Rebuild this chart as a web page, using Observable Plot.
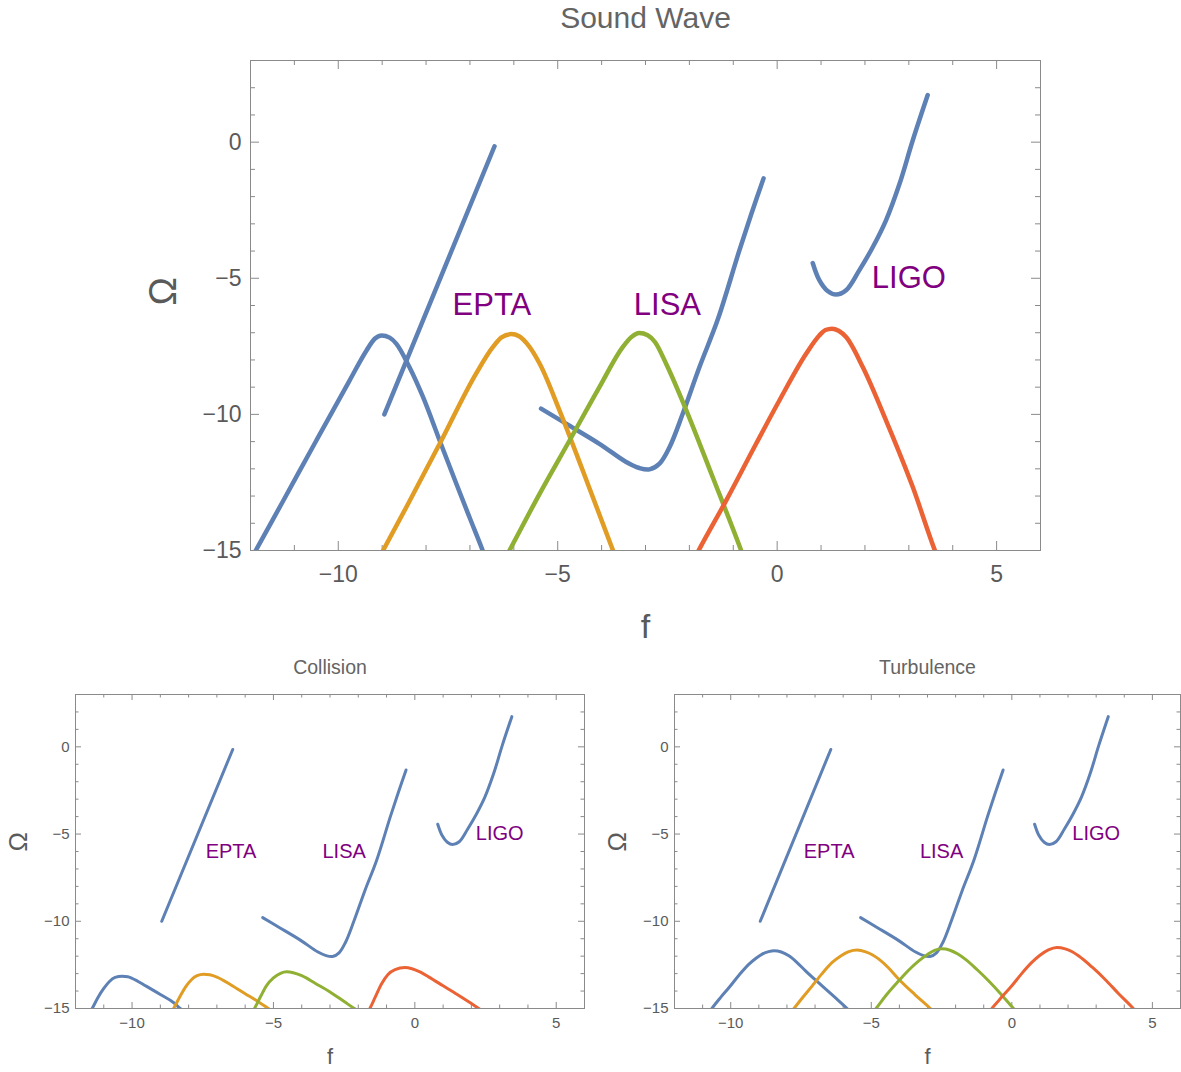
<!DOCTYPE html>
<html>
<head>
<meta charset="utf-8">
<script src="https://cdn.jsdelivr.net/npm/d3@7"></script>
<script src="https://cdn.jsdelivr.net/npm/@observablehq/plot@0.6"></script>
<style>
  body { margin: 0; background: #ffffff; }
  #wrap { position: relative; width: 1181px; height: 1072px; overflow: hidden; background: #fff; }
  #wrap > div { position: absolute; }
</style>
</head>
<body>
<div id="wrap">
  <div id="top" style="left:0px; top:0px;"></div>
  <div id="bl" style="left:0px; top:640px;"></div>
  <div id="br" style="left:590px; top:640px;"></div>
</div>
<script>
// ---------------- axes / ticks ----------------
const xDomain = [-12, 6];
const yDomain = [-15, 3];
const xTickValues = [-10, -5, 0, 5];
const xTickLabels = ["\u221210", "\u22125", "0", "5"];
const yTickValues = [0, -5, -10, -15];
const yTickLabels = ["0", "\u22125", "\u221210", "\u221215"];
const xMinorTicks = [-11, -9, -8, -7, -6, -4, -3, -2, -1, 1, 2, 3, 4];
const yMinorTicks = [-14, -13, -12, -11, -9, -8, -7, -6, -4, -3, -2, -1, 1, 2];

// ---------------- detector sensitivity curves (same in all panels) ----------------
const eptaF = [-8.95, -6.44];
const eptaOm = [-10.0, -0.15];
const lisaF = [-5.38, -4.81, -4.05, -3.44, -3.14, -2.91, -2.68, -2.45, -2.15, -1.77, -1.35, -0.86, -0.56, -0.31];
const lisaOm = [-9.79, -10.34, -11.08, -11.75, -11.97, -12.02, -11.81, -11.2, -9.97, -8.26, -6.5, -3.97, -2.5, -1.33];
const ligoF = [0.81, 0.96, 1.15, 1.34, 1.57, 1.87, 2.18, 2.48, 2.79, 3.09, 3.43];
const ligoOm = [-4.44, -5.07, -5.47, -5.6, -5.44, -4.71, -3.85, -2.87, -1.52, 0.07, 1.73];

const detNames = ["EPTA", "LISA", "LIGO"];
const detLabelF = [-6.5, -2.5, 3.0];
const detLabelOm = [-6.0, -6.0, -5.0];

const seriesColors = ["#5E81B5", "#E19C24", "#8FB032", "#EB6235"];

// ---------------- Sound Wave ----------------
const swBlueF = [-12.15, -11.88, -11.26, -10.5, -9.74, -9.36, -9.17, -9.01, -8.83, -8.68, -8.38, -8.07, -7.69, -7.31, -7.01, -6.71, -6.55];
const swBlueOm = [-15.8, -15.0, -13.19, -10.96, -8.75, -7.66, -7.22, -7.10, -7.18, -7.40, -8.26, -9.36, -10.96, -12.55, -13.78, -15.0, -15.7];
const swOrangeF = [-9.25, -8.98, -8.45, -7.69, -6.86, -6.48, -6.28, -6.06, -5.88, -5.7, -5.41, -4.96, -4.43, -3.74, -3.58];
const swOrangeOm = [-15.8, -15.0, -13.41, -11.08, -8.5, -7.53, -7.17, -7.05, -7.13, -7.4, -8.14, -9.85, -12.06, -15.0, -15.7];
const swGreenF = [-6.35, -6.10, -5.41, -4.73, -4.05, -3.52, -3.33, -3.14, -2.95, -2.78, -2.53, -2.07, -1.47, -0.82, -0.66];
const swGreenOm = [-15.75, -15.0, -12.91, -10.96, -9.0, -7.53, -7.17, -7.01, -7.09, -7.35, -8.14, -9.85, -12.3, -15.0, -15.7];
const swRedF = [-2.0, -1.77, -1.16, -0.48, 0.05, 0.66, 0.96, 1.1, 1.25, 1.4, 1.57, 1.95, 2.48, 3.09, 3.58, 3.75];
const swRedOm = [-15.65, -14.94, -13.16, -11.08, -9.49, -7.77, -7.10, -6.9, -6.85, -6.93, -7.16, -8.26, -10.22, -12.67, -14.94, -15.65];

// ---------------- Collision ----------------
const colBlueF = [-11.55, -11.41, -11.2, -11.0, -10.8, -10.6, -10.35, -10.15, -10.0, -9.5, -9.0, -8.5, -8.3, -8.1];
const colBlueOm = [-15.4, -15.0, -14.35, -13.85, -13.45, -13.22, -13.15, -13.18, -13.27, -13.72, -14.2, -14.7, -15.0, -15.2];
const colOrangeF = [-8.65, -8.53, -8.3, -8.1, -7.9, -7.7, -7.47, -7.25, -7.0, -6.5, -6.0, -5.5, -5.18, -5.0];
const colOrangeOm = [-15.35, -15.0, -14.3, -13.75, -13.35, -13.12, -13.03, -13.07, -13.2, -13.65, -14.15, -14.65, -15.0, -15.2];
const colGreenF = [-5.8, -5.67, -5.45, -5.25, -5.0, -4.75, -4.53, -4.3, -4.0, -3.5, -3.0, -2.5, -2.14, -1.95];
const colGreenOm = [-15.35, -15.0, -14.3, -13.7, -13.25, -12.98, -12.9, -12.95, -13.12, -13.58, -14.05, -14.6, -15.0, -15.2];
const colRedF = [-1.72, -1.59, -1.4, -1.18, -0.95, -0.7, -0.35, -0.1, 0.2, 0.5, 1.0, 1.5, 2.0, 2.26, 2.45];
const colRedOm = [-15.4, -15.0, -14.35, -13.6, -13.05, -12.77, -12.65, -12.72, -12.92, -13.2, -13.7, -14.2, -14.72, -15.0, -15.2];

// ---------------- Turbulence ----------------
const turbBlueF = [-10.8, -10.67, -10.35, -10.06, -9.7, -9.35, -9.1, -8.88, -8.65, -8.46, -8.2, -7.93, -7.65, -7.34, -6.75, -6.3, -5.86, -5.7];
const turbBlueOm = [-15.3, -15.0, -14.35, -13.8, -13.08, -12.46, -12.12, -11.88, -11.74, -11.69, -11.76, -11.98, -12.35, -12.84, -13.7, -14.35, -15.0, -15.25];
const turbOrangeF = [-7.9, -7.75, -7.42, -7.10, -6.75, -6.39, -6.1, -5.8, -5.5, -5.2, -4.95, -4.73, -4.4, -4.02, -3.45, -2.9, -2.75];
const turbOrangeOm = [-15.3, -15.0, -14.33, -13.7, -13.0, -12.36, -12.0, -11.74, -11.65, -11.75, -11.93, -12.17, -12.65, -13.32, -14.2, -15.0, -15.25];
const turbGreenF = [-5.0, -4.83, -4.45, -4.02, -3.7, -3.31, -3.0, -2.75, -2.49, -2.2, -1.92, -1.66, -1.25, -0.83, -0.4, 0.06, 0.2];
const turbGreenOm = [-15.35, -15.0, -14.2, -13.41, -12.85, -12.27, -11.9, -11.67, -11.58, -11.66, -11.88, -12.17, -12.75, -13.41, -14.15, -15.0, -15.25];
const turbRedF = [-0.85, -0.71, -0.35, 0.0, 0.35, 0.71, 1.0, 1.3, 1.6, 1.9, 2.15, 2.37, 2.85, 3.31, 3.8, 4.32, 4.45];
const turbRedOm = [-15.3, -15.0, -14.33, -13.7, -13.0, -12.36, -11.95, -11.64, -11.5, -11.58, -11.75, -11.98, -12.62, -13.32, -14.15, -15.0, -15.25];

// ---------------- helpers ----------------
const rows = (f, om) => f.map((x, i) => ({f: x, om: om[i]}));
const FONT = "'Liberation Sans', Arial, Helvetica, sans-serif";
const FRAME = "#8a8a8a";
const TICKTXT = "#5a5a5a";

function panel(cfg) {
  const fw = cfg.width - cfg.ml - cfg.mr;
  const fh = cfg.height - cfg.mt - cfg.mb;
  const marks = [];
  const tk = (vals, len) => [
    Plot.tickX(vals, {x: d => d, stroke: FRAME, strokeWidth: 1, insetTop: fh - len}),
    Plot.tickX(vals, {x: d => d, stroke: FRAME, strokeWidth: 1, insetBottom: fh - len})
  ];
  const tky = (vals, len) => [
    Plot.tickY(vals, {y: d => d, stroke: FRAME, strokeWidth: 1, insetRight: fw - len}),
    Plot.tickY(vals, {y: d => d, stroke: FRAME, strokeWidth: 1, insetLeft: fw - len})
  ];
  marks.push(...tk(xMinorTicks, cfg.minorLen), ...tk(xTickValues, cfg.majorLen));
  marks.push(...tky(yMinorTicks, cfg.minorLen), ...tky(yTickValues, cfg.majorLen));
  // detector curves
  marks.push(Plot.line(rows(eptaF, eptaOm), {x: "f", y: "om", stroke: seriesColors[0], strokeWidth: cfg.sw, clip: true}));
  marks.push(Plot.line(rows(lisaF, lisaOm), {x: "f", y: "om", stroke: seriesColors[0], strokeWidth: cfg.sw, curve: "catmull-rom", clip: true}));
  marks.push(Plot.line(rows(ligoF, ligoOm), {x: "f", y: "om", stroke: seriesColors[0], strokeWidth: cfg.sw, curve: "catmull-rom", clip: true}));
  // spectra
  cfg.curves.forEach((c, i) => {
    marks.push(Plot.line(rows(c[0], c[1]), {x: "f", y: "om", stroke: seriesColors[i], strokeWidth: cfg.sw, curve: "monotone-x", clip: true}));
  });
  // detector labels
  marks.push(Plot.text(detNames, {x: (d, i) => detLabelF[i], y: (d, i) => detLabelOm[i], text: d => d,
    fill: "#800080", fontSize: cfg.labelSize, textAnchor: "middle", lineAnchor: "middle"}));
  // frame
  marks.push(Plot.frame({stroke: FRAME, strokeWidth: 1}));
  // tick labels
  marks.push(Plot.text(xTickValues, {x: d => d, text: (d, i) => xTickLabels[i], frameAnchor: "bottom",
    dy: cfg.xLabDy, fill: TICKTXT, fontSize: cfg.tickSize, lineAnchor: "middle"}));
  marks.push(Plot.text(yTickValues, {y: d => d, text: (d, i) => yTickLabels[i], frameAnchor: "left",
    dx: cfg.yLabDx, fill: TICKTXT, fontSize: cfg.tickSize, textAnchor: "end", lineAnchor: "middle"}));
  // axis titles
  marks.push(Plot.text([cfg.xName], {frameAnchor: "bottom", dy: cfg.xNameDy, text: d => d, fill: TICKTXT,
    fontSize: cfg.nameSize, lineAnchor: "middle"}));
  marks.push(Plot.text([cfg.yName], {frameAnchor: "left", dx: cfg.yNameDx, text: d => d, fill: TICKTXT,
    fontSize: cfg.omegaSize, rotate: -90, lineAnchor: "middle"}));
  // panel title
  marks.push(Plot.text([cfg.title], {frameAnchor: "top", dy: cfg.titleDy, text: d => d, fill: "#646464",
    fontSize: cfg.titleSize, lineAnchor: "middle"}));

  return Plot.plot({
    width: cfg.width, height: cfg.height,
    marginLeft: cfg.ml, marginRight: cfg.mr, marginTop: cfg.mt, marginBottom: cfg.mb,
    x: {domain: xDomain, axis: null},
    y: {domain: yDomain, axis: null},
    style: {fontFamily: FONT, background: "transparent", overflow: "visible"},
    marks
  });
}

document.getElementById("top").append(panel({
  width: 1181, height: 660, ml: 250, mr: 141, mt: 60, mb: 110,
  curves: [[swBlueF, swBlueOm], [swOrangeF, swOrangeOm], [swGreenF, swGreenOm], [swRedF, swRedOm]],
  sw: 4.5, majorLen: 9, minorLen: 5, labelSize: 31, tickSize: 23,
  xLabDy: 24, yLabDx: -9, xName: "f", yName: "\u03A9", xNameDy: 77, yNameDx: -87, nameSize: 34, omegaSize: 38,
  title: "Sound Wave", titleDy: -42, titleSize: 30
}));

document.getElementById("bl").append(panel({
  width: 590, height: 432, ml: 75, mr: 6, mt: 54, mb: 64,
  curves: [[colBlueF, colBlueOm], [colOrangeF, colOrangeOm], [colGreenF, colGreenOm], [colRedF, colRedOm]],
  sw: 3, majorLen: 6, minorLen: 3.5, labelSize: 20, tickSize: 15,
  xLabDy: 15, yLabDx: -6, xName: "f", yName: "\u03A9", xNameDy: 48, yNameDx: -57, nameSize: 22, omegaSize: 26,
  title: "Collision", titleDy: -27, titleSize: 19.5
}));

document.getElementById("br").append(panel({
  width: 591, height: 432, ml: 84, mr: 1, mt: 54, mb: 64,
  curves: [[turbBlueF, turbBlueOm], [turbOrangeF, turbOrangeOm], [turbGreenF, turbGreenOm], [turbRedF, turbRedOm]],
  sw: 3, majorLen: 6, minorLen: 3.5, labelSize: 20, tickSize: 15,
  xLabDy: 15, yLabDx: -6, xName: "f", yName: "\u03A9", xNameDy: 48, yNameDx: -57, nameSize: 22, omegaSize: 26,
  title: "Turbulence", titleDy: -27, titleSize: 19.5
}));
</script>
</body>
</html>
